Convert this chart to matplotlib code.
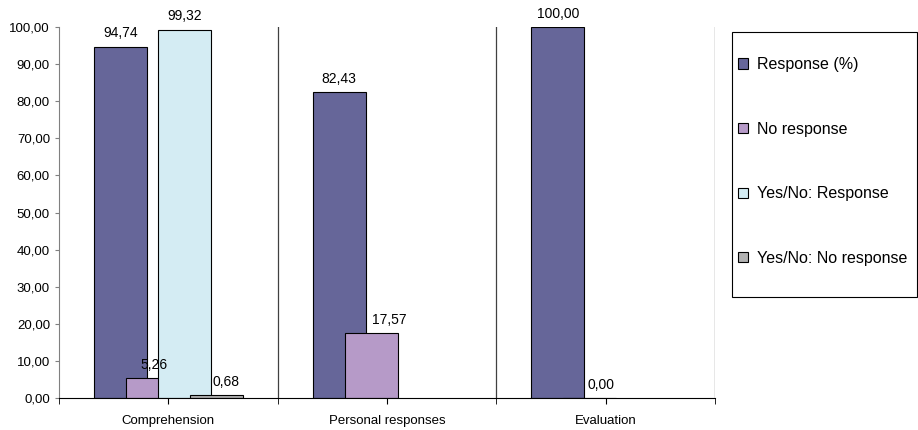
import numpy as np
import matplotlib.pyplot as plt
from matplotlib.ticker import FuncFormatter, FixedLocator

plt.rcParams['font.family'] = ['Liberation Sans', 'DejaVu Sans']

categories = ['Comprehension', 'Personal responses', 'Evaluation']
series_names = ['Response (%)', 'No response', 'Yes/No: Response', 'Yes/No: No response']
response = [94.74, 82.43, 100.00]
no_response = [5.26, 17.57, 0.00]
yn_response = [99.32, np.nan, np.nan]
yn_no_response = [0.68, np.nan, np.nan]
colors = ['#666699', '#b69ac8', '#d4ecf3', '#b2b2b2']

# horizontal nudges (points) for a few value labels
label_dx = [[0, 0, 0], [1, 13, 8], [0, 0, 0], [7, 0, 0]]

fig = plt.figure(figsize=(9.18, 4.30), dpi=100)
ax = fig.add_axes([0.0643, 0.0744, 0.7146, 0.8628])

x = np.arange(len(categories))
step = 0.146
width = 0.242
all_series = [response, no_response, yn_response, yn_no_response]

for i, (vals, col) in enumerate(zip(all_series, colors)):
    pos = x + (i - 1.5) * step
    ax.bar(pos, vals, width=width, color=col, edgecolor='black', linewidth=0.8, zorder=2 + i)
    for j, (px, v) in enumerate(zip(pos, vals)):
        if np.isnan(v):
            continue
        ax.annotate(f'{v:.2f}'.replace('.', ','), (px, v), xytext=(label_dx[i][j], 4.5),
                    textcoords='offset points', ha='center', va='bottom', fontsize=10, zorder=10)

ax.set_xlim(-0.5, 2.5)
ax.set_ylim(0, 100)
ax.set_yticks(np.arange(0, 101, 10))
ax.yaxis.set_major_formatter(FuncFormatter(lambda v, p: f'{v:.2f}'.replace('.', ',')))

ax.set_xticks(x)
ax.set_xticklabels(categories)
ax.xaxis.set_minor_locator(FixedLocator([-0.5, 0.5, 1.5, 2.5]))
ax.tick_params(axis='x', which='both', length=4, direction='out', labelsize=9.5, pad=8)
ax.tick_params(axis='y', length=3, direction='out', labelsize=9.5, color='#808080')

# category separators
for b in [0.5, 1.5, 2.5]:
    ax.axvline(b, color='#404040', linewidth=0.9, zorder=1)

ax.spines['top'].set_visible(False)
ax.spines['right'].set_visible(False)
ax.spines['left'].set_color('#808080')
ax.spines['bottom'].set_color('black')
ax.spines['bottom'].set_zorder(20)

# legend frame drawn separately so the entries can sit close to its left edge
fig.patches.append(plt.Rectangle((0.7974, 0.3093), 0.2015, 0.6163, transform=fig.transFigure,
                                 facecolor='white', edgecolor='black', linewidth=0.8, zorder=0))
handles = [plt.Rectangle((0, 0), 1, 1, facecolor=c, edgecolor='black', linewidth=0.8) for c in colors]
fig.legend(handles, series_names, loc='center left', bbox_to_anchor=(0.804, 0.6245),
           fontsize=11.5, frameon=False, labelspacing=3.1, handlelength=0.6, handleheight=0.6,
           handletextpad=0.6, borderpad=0, borderaxespad=0)

fig.savefig('out.png', dpi=100)
